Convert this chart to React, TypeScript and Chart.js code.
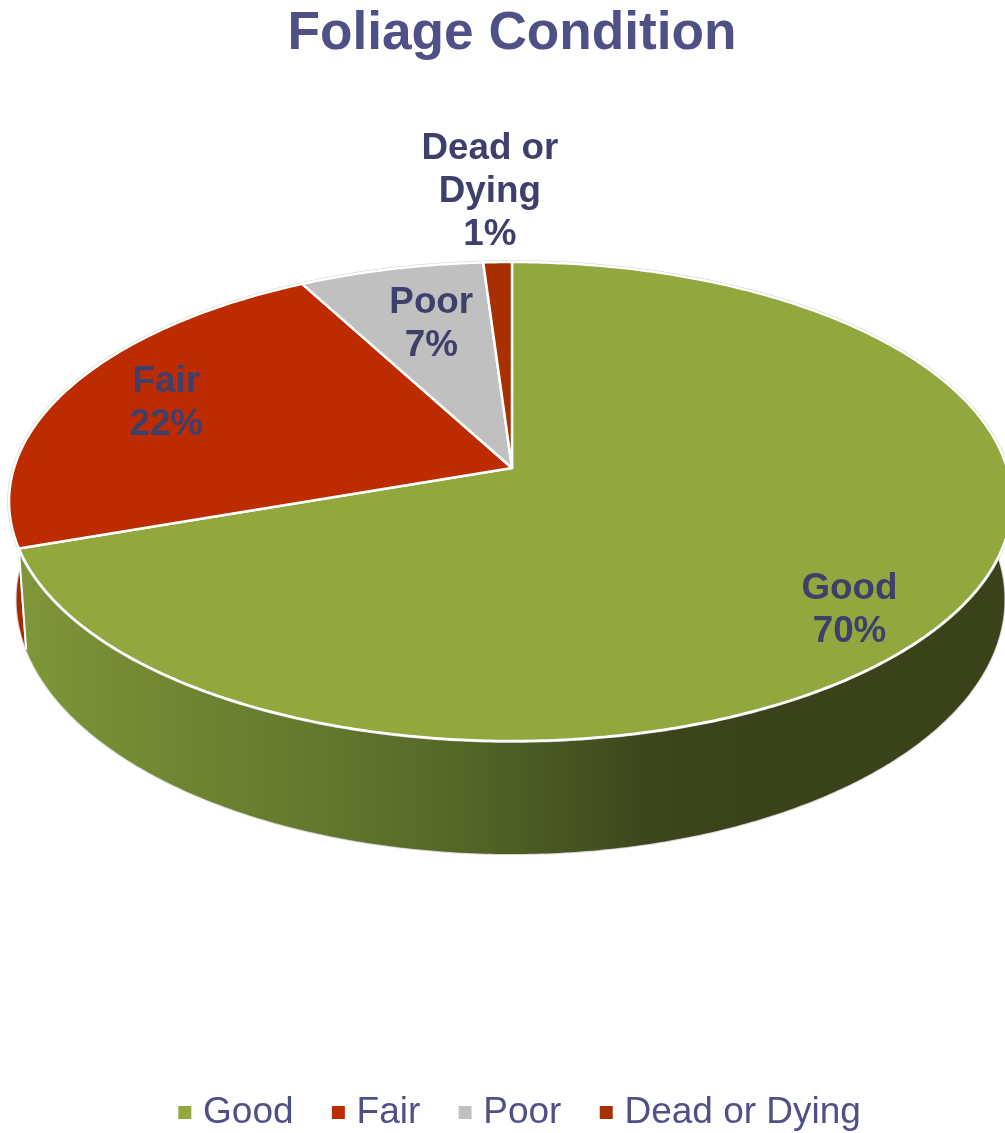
import React, { useEffect, useRef } from "react";
import { Chart, registerables } from "chart.js";

Chart.register(...registerables);

const categories = ["Good", "Fair", "Poor", "Dead or Dying"];
const values = [69.7, 22.45, 6.8, 1.05];
const topColors = ["#92a83f", "#bd2c00", "#c0c0c0", "#a82f00"];
const wallColors = ["#7d9338", "#a82800", "#8a8a8a", "#8a2600"];
const labelLines = [["Good"], ["Fair"], ["Poor"], ["Dead or", "Dying"]];
const labelRadius = [0.836, 0.782, 0.704, 1.426];
const labelAngleShift = [5.6, 1.2, 1.5, -0.2];
const title = "Foliage Condition";

const FONT = '"Liberation Sans", Arial, sans-serif';
const CX = 512;
const CY = 468;
const A = 234.8;
const B_RIGHT = 495;
const B_LEFT = 498;
const K = 0.14;

function project(theta: number, r = 1): [number, number] {
  const u = r * Math.sin(theta);
  const v = r * Math.cos(theta);
  const w = 1 + K * v;
  return [CX + ((u < 0 ? B_LEFT : B_RIGHT) * u) / w, CY - (A * v) / w];
}

function drop([x, y]: [number, number]): [number, number] {
  return [CX + (x - CX) * 0.985, y + 101 + (y - 549) * 0.0625];
}

function rimPoints(start: number, end: number): [number, number][] {
  const n = Math.max(2, Math.ceil((end - start) / 0.01));
  const pts: [number, number][] = [];
  for (let i = 0; i <= n; i++) pts.push(project(start + ((end - start) * i) / n));
  return pts;
}

function legendSwatch(color: string): HTMLCanvasElement {
  const c = document.createElement("canvas");
  c.width = 30;
  c.height = 13;
  const g = c.getContext("2d")!;
  g.fillStyle = color;
  g.fillRect(12, 0, 13, 13);
  return c;
}

const pie3d = {
  id: "pie3d",
  afterLayout(chart: any) {
    chart.legend.left += 17;
    chart.legend.right += 17;
    chart.legend.top += 8;
    chart.legend.bottom += 8;
    chart.titleBlock.left += 9.5;
    chart.titleBlock.right += 9.5;
  },
  beforeDatasetDraw() {
    return false;
  },
  afterDatasetsDraw(chart: any) {
    const ctx: CanvasRenderingContext2D = chart.ctx;
    const arcs = chart.getDatasetMeta(0).data;
    const angles = arcs.map((a: any) => [a.startAngle + Math.PI / 2, a.endAngle + Math.PI / 2]);

    ctx.save();
    ctx.lineJoin = "round";
    const x0 = 30;
    const x1 = 760;
    const grad = ctx.createLinearGradient(x0, 0, x1, 0);
    const stop = (x: number, c: string) => grad.addColorStop((x - x0) / (x1 - x0), c);
    stop(30, "#7f9539");
    stop(130, "#748a33");
    stop(300, "#667a2e");
    stop(450, "#566827");
    stop(590, "#445120");
    stop(650, "#3c451b");
    stop(760, "#3a4219");

    for (let i = arcs.length - 1; i >= 0; i--) {
      const rim = rimPoints(angles[i][0], angles[i][1]);
      ctx.beginPath();
      rim.forEach(([x, y], j) => (j ? ctx.lineTo(x, y) : ctx.moveTo(x, y)));
      rim.slice().reverse().forEach((p) => {
        const [x, y] = drop(p);
        ctx.lineTo(x, y);
      });
      ctx.closePath();
      ctx.strokeStyle = "#d4d4d4";
      ctx.lineWidth = 2;
      ctx.stroke();
      ctx.fillStyle = i === 0 ? grad : wallColors[i];
      ctx.fill();
    }

    arcs.forEach((_: any, i: number) => {
      const rim = rimPoints(angles[i][0], angles[i][1]);
      ctx.beginPath();
      rim.forEach(([x, y], j) => (j ? ctx.lineTo(x, y) : ctx.moveTo(x, y)));
      ctx.strokeStyle = "#cfcfcf";
      ctx.lineWidth = 3.5;
      ctx.stroke();
    });

    // Wall seam where the first slice ends
    const seam = project(angles[0][1]);
    const seamBottom = drop(seam);
    ctx.beginPath();
    ctx.moveTo(seam[0], seam[1]);
    ctx.lineTo(seamBottom[0], seamBottom[1]);
    ctx.strokeStyle = "#ffffff";
    ctx.lineWidth = 2;
    ctx.stroke();

    arcs.forEach((_: any, i: number) => {
      const rim = rimPoints(angles[i][0], angles[i][1]);
      ctx.beginPath();
      ctx.moveTo(CX, CY);
      rim.forEach(([x, y]) => ctx.lineTo(x, y));
      ctx.closePath();
      ctx.fillStyle = topColors[i];
      ctx.fill();
      ctx.strokeStyle = "#ffffff";
      ctx.lineWidth = 2.5;
      ctx.stroke();
    });

    ctx.font = `bold 36.8px ${FONT}`;
    ctx.fillStyle = "#3f3f6c";
    ctx.textAlign = "center";
    ctx.textBaseline = "middle";
    const total = values.reduce((s, v) => s + v, 0);
    arcs.forEach((_: any, i: number) => {
      const mid = (angles[i][0] + angles[i][1]) / 2 + (labelAngleShift[i] * Math.PI) / 180;
      const [x, y] = project(mid, labelRadius[i]);
      const lines = [...labelLines[i], `${Math.round((values[i] / total) * 100)}%`];
      const lh = 43;
      lines.forEach((t, j) => ctx.fillText(t, x - 0.5, y + 2.5 + (j - (lines.length - 1) / 2) * lh));
    });
    ctx.restore();
  },
};

export default function App() {
  const ref = useRef<HTMLCanvasElement>(null);
  useEffect(() => {
    const chart = new Chart(ref.current!, {
      type: "pie",
      data: {
        labels: categories,
        datasets: [{ data: values, backgroundColor: topColors, borderColor: "#ffffff" }],
      },
      options: {
        responsive: false,
        animation: false,
        layout: { padding: 0 },
        plugins: {
          title: {
            display: true,
            text: title,
            color: "#4f5186",
            font: { family: FONT, size: 53.2, weight: "bold" },
            padding: { top: 2, bottom: 20 },
          },
          legend: {
            position: "bottom",
            labels: {
              color: "#4f5186",
              font: { family: FONT, size: 37 },
              usePointStyle: true,
              boxWidth: 6.5,
              padding: 38,
              generateLabels: () =>
                categories.map((text, i) => ({
                  text,
                  fontColor: "#4f5186",
                  pointStyle: legendSwatch(topColors[i]),
                  fillStyle: topColors[i],
                  strokeStyle: topColors[i],
                  lineWidth: 0,
                  hidden: false,
                  index: i,
                })),
            },
          },
          tooltip: { enabled: false },
        },
      } as any,
      plugins: [pie3d as any],
    });
    return () => chart.destroy();
  }, []);
  return (
    <div style={{ position: "absolute", left: 0, top: 0, width: 1005, height: 1133, overflow: "hidden", background: "#fff" }}>
      <canvas ref={ref} width={1005} height={1133} style={{ display: "block" }} />
    </div>
  );
}
